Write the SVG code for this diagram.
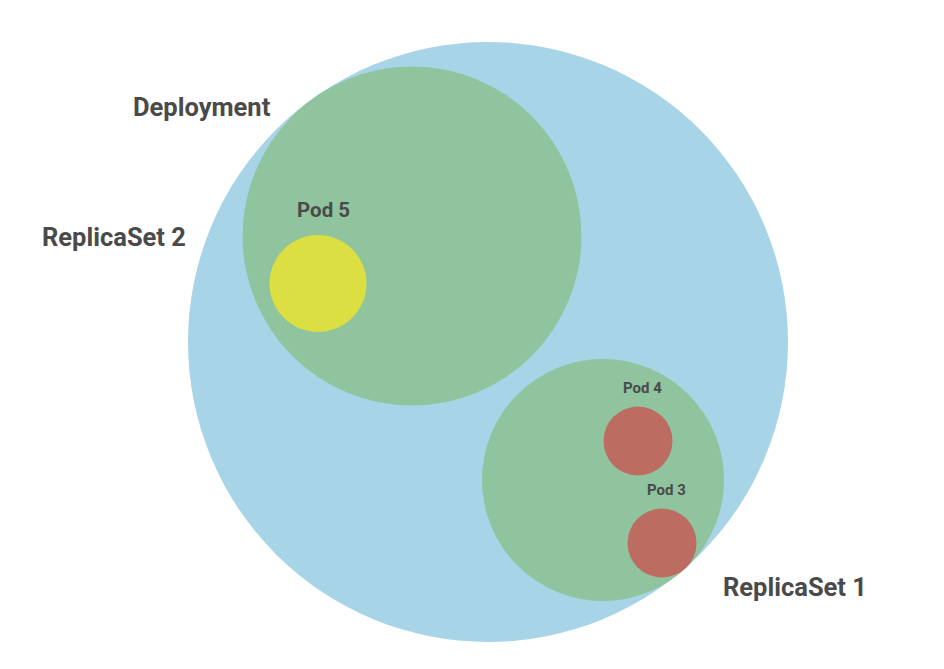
<svg xmlns="http://www.w3.org/2000/svg" width="944" height="669" viewBox="0 0 944 669">
<style>
.lbl{font-family:Roboto,"Liberation Sans",sans-serif;font-weight:700;fill:#4a4a4a}
.big{font-size:25.5px}
.p5{font-size:20.5px}
.ps{font-size:15px}
</style>
<rect width="944" height="669" fill="#ffffff"/>
<g id="deployment">
<circle cx="488" cy="342" r="300" fill="#a8d4e8"/>
<text class="lbl big" x="133" y="116">Deployment</text>
</g>
<g id="replicaset2">
<circle cx="412" cy="236" r="169.5" fill="#90c49e"/>
<text class="lbl big" x="42" y="246">ReplicaSet 2</text>
</g>
<g id="replicaset1">
<circle cx="603" cy="480" r="121" fill="#90c49e"/>
<text class="lbl big" x="723" y="596">ReplicaSet 1</text>
</g>
<g id="pod5">
<circle cx="318" cy="283.5" r="48.5" fill="#dbdf42"/>
<text class="lbl p5" x="297" y="217">Pod 5</text>
</g>
<g id="pod4">
<circle cx="638" cy="441" r="34.5" fill="#bd6c62"/>
<text class="lbl ps" x="623" y="393">Pod 4</text>
</g>
<g id="pod3">
<circle cx="662" cy="543" r="34.5" fill="#bd6c62"/>
<text class="lbl ps" x="647" y="495">Pod 3</text>
</g>
<g id="connectors"></g>
</svg>
